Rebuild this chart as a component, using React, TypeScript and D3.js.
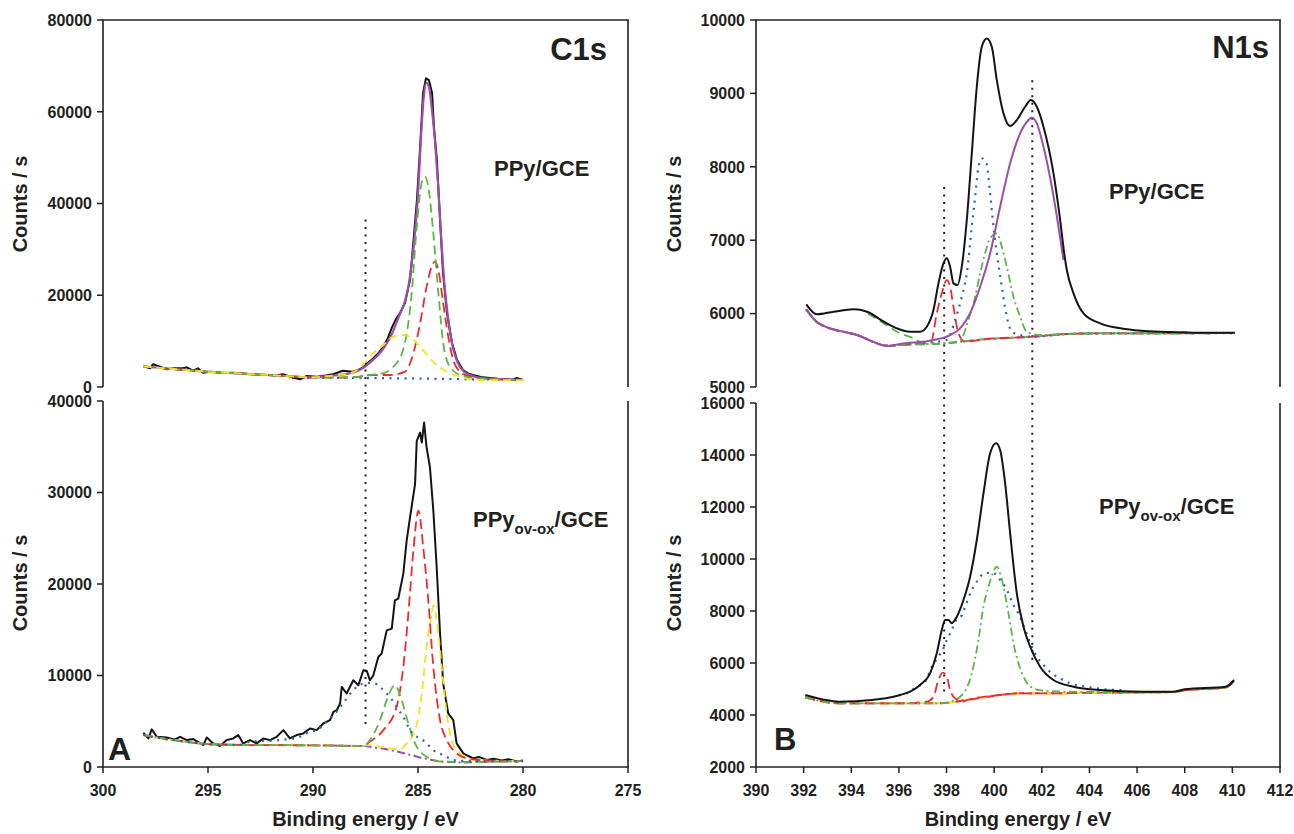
import React from 'react';
import * as d3 from 'd3';

type P = [number, number];

// ---------------- Panel A : C1s ----------------
const c1sXTicks = [300, 295, 290, 285, 280, 275];
const c1sTopYTicks = [0, 20000, 40000, 60000, 80000];
const c1sBotYTicks = [0, 10000, 20000, 30000, 40000];

// PPy/GCE experimental spectrum
const c1sTopExp: P[] = [
  [298.08, 4580], [297.76, 4070], [297.62, 4950], [297.29, 4430], [296.97, 3860], [296.6, 4100],
  [296.19, 4070], [296.01, 4290], [295.71, 3550], [295.48, 4070], [295.24, 3120], [294.9, 3300],
  [294.59, 3200], [294.2, 3050], [293.81, 3120], [293.48, 2990], [293.0, 2830], [292.6, 2700],
  [292.2, 2620], [291.8, 2500], [291.43, 2770], [291.1, 2250], [290.62, 1680], [290.3, 2400],
  [289.82, 2250], [289.4, 2500], [289.05, 2770], [288.57, 3550], [288.24, 3400], [288.1, 3340],
  [287.8, 3800], [287.62, 4290], [287.44, 5000], [287.14, 6200], [286.9, 7300], [286.65, 8800],
  [286.45, 10500], [286.24, 13000], [286.05, 14800], [285.86, 16100], [285.62, 18300], [285.38, 23300],
  [285.24, 30500], [285.05, 40800], [284.9, 52300], [284.76, 64100], [284.62, 67300], [284.48, 66900],
  [284.33, 64100], [284.24, 56700], [284.1, 49500], [283.95, 36400], [283.81, 24900], [283.62, 16100],
  [283.38, 9600], [283.14, 5900], [282.86, 3700], [282.6, 2900], [282.38, 2600], [282.0, 2200],
  [281.57, 1960], [281.2, 1800], [280.8, 1750], [280.5, 1600], [280.3, 1950], [280.0, 1550],
];
// shared background of the fitted components (left side)
const c1sTopBg: P[] = [
  [298.08, 4500], [297.5, 4250], [297, 4050], [296.5, 3850], [296, 3700], [295.5, 3500], [295, 3300],
  [294.5, 3150], [294, 3050], [293.5, 2950], [293, 2800], [292.5, 2700], [292, 2600], [291.5, 2450],
  [291, 2300], [290.5, 2150], [290, 2100],
];
const c1sTopFit: P[] = [
  [289.5, 2300], [289, 2500], [288.5, 2800], [288.0, 3300], [287.6, 4200], [287.2, 5700], [286.9, 7000],
  [286.6, 8700], [286.2, 12000], [285.9, 15500], [285.6, 19000], [285.4, 23500], [285.2, 31000],
  [285.0, 42000], [284.85, 55000], [284.72, 63500], [284.6, 66300], [284.48, 65500], [284.35, 61000],
  [284.2, 54000], [284.05, 44500], [283.9, 33000], [283.75, 23000], [283.55, 14500], [283.35, 8800],
  [283.1, 5200], [282.8, 3300], [282.4, 2400], [281.8, 1900], [281, 1700], [280, 1550],
];
const c1sTopYellow: P[] = [
  [289.5, 2300], [289, 2500], [288.5, 2800], [288.0, 3400], [287.56, 5200], [287.13, 7350], [286.65, 9160],
  [286.17, 10970], [285.7, 11340], [285.3, 10620], [284.9, 8790], [284.51, 6610], [284.11, 4800],
  [283.63, 3340], [283.0, 2250], [282.05, 1530], [281, 1500], [280, 1450],
];
const c1sTopGreen: P[] = [
  [289, 2050], [288, 2100], [287.29, 2620], [286.65, 3000], [286.19, 4360], [285.71, 8070], [285.3, 20490],
  [285.06, 34880], [284.83, 44470], [284.67, 45850], [284.51, 43670], [284.27, 33570], [284.03, 20490],
  [283.8, 9590], [283.48, 4360], [283.0, 2620], [282.38, 1960], [281, 1600], [280, 1500],
];
const c1sTopRed: P[] = [
  [289, 2050], [288, 2150], [287.3, 2600], [286.33, 2620], [285.62, 3340], [285.22, 7350], [284.9, 13890],
  [284.59, 21870], [284.35, 26230], [284.19, 27310], [284.03, 25500], [283.8, 18250], [283.56, 10970],
  [283.32, 5890], [283.0, 3340], [282.52, 2250], [281.5, 1700], [280, 1500],
];
const c1sTopBlue: P[] = [
  [291, 2000], [289, 1980], [287.5, 1950], [285, 1850], [283, 1700], [281, 1600], [280, 1550],
];

// PPy(ov-ox)/GCE
const c1sBotExp: P[] = [
  [298.08, 3740], [297.84, 3120], [297.68, 4110], [297.44, 3300], [296.97, 3230], [296.6, 3000],
  [296.33, 3300], [296.01, 2940], [295.7, 3050], [295.22, 2400], [295.06, 3230], [294.75, 2580],
  [294.43, 2290], [294.11, 2940], [293.8, 3120], [293.56, 3490], [293.32, 2580], [293.0, 2940],
  [292.68, 2580], [292.37, 3120], [292.05, 2940], [291.73, 3300], [291.41, 4030], [291.1, 3120],
  [290.78, 3490], [290.46, 3670], [290.14, 4210], [289.82, 4030], [289.51, 4760], [289.19, 5120],
  [289.03, 6030], [288.87, 6210], [288.71, 6940], [288.63, 8750], [288.4, 8030], [288.08, 9480],
  [287.84, 8940], [287.6, 10570], [287.44, 10500], [287.29, 9480], [287.13, 10000], [286.89, 12020],
  [286.73, 12390], [286.49, 14930], [286.25, 15120], [286.1, 18200], [285.94, 18390], [285.7, 21110],
  [285.54, 24740], [285.38, 27280], [285.14, 30920], [285.06, 35640], [284.9, 36550], [284.82, 35460],
  [284.71, 37640], [284.59, 34910], [284.43, 32730], [284.27, 28010], [284.11, 21830], [283.95, 14570],
  [283.8, 9120], [283.56, 5850], [283.32, 5120], [283.16, 2580], [282.84, 1490], [282.6, 1200],
  [282.37, 950], [282.1, 1100], [281.73, 760], [281.4, 900], [281.0, 700], [280.7, 850], [280.3, 600],
  [280.0, 700],
];
const c1sBotBase: P[] = [
  [298.08, 3500], [297.5, 3250], [297, 3050], [296.5, 2900], [296, 2750], [295.5, 2600], [295, 2500],
  [294.5, 2450], [294, 2430], [293.5, 2420], [293, 2400], [292, 2400], [291, 2380], [290, 2370],
  [289, 2340], [288, 2300], [287.6, 2300],
];
const c1sBotShirley: P[] = [
  [287, 2100], [286.5, 1950], [286, 1700], [285.5, 1400], [285, 1100], [284.5, 850], [284, 620],
  [283.5, 550], [283, 500], [282, 550], [281, 600], [280, 650],
];
const c1sBotYellow: P[] = [
  [287.44, 2400], [286.5, 2100], [285.86, 1900], [285.54, 2580], [285.14, 4030], [284.82, 8030],
  [284.59, 13110], [284.35, 16750], [284.27, 17660], [284.03, 14570], [283.87, 10930], [283.63, 5850],
  [283.4, 2940], [283.0, 1490], [282.37, 760], [281.5, 700], [280, 650],
];
const c1sBotRed: P[] = [
  [287.29, 2760], [286.65, 4030], [286.02, 6570], [285.7, 10930], [285.46, 16750], [285.22, 23650],
  [284.98, 28010], [284.75, 24010], [284.51, 18200], [284.27, 10930], [283.95, 5120], [283.63, 2940],
  [283.16, 1490], [282.68, 950], [281.5, 700], [280, 650],
];
const c1sBotGreen: P[] = [
  [287.29, 2940], [286.81, 5120], [286.49, 7300], [286.1, 8940], [285.78, 7300], [285.46, 4760],
  [285.14, 2580], [284.59, 1120], [283.8, 580], [282.5, 550], [281, 600], [280, 650],
];
const c1sBotBlue: P[] = [
  [293, 2760], [291.57, 2940], [290.62, 3300], [290.14, 3850], [289.82, 4030], [289.35, 4940],
  [288.95, 5850], [288.63, 6760], [287.92, 8750], [287.44, 9190], [287.05, 9120], [286.65, 8390],
  [286.25, 7380], [286.02, 6570], [285.7, 5480], [285.38, 4030], [284.67, 2760], [284.27, 1850],
  [283.8, 1310], [283.32, 760], [282.5, 650], [281, 650], [280, 650],
];
const c1sMarkerEv = 287.5;
const c1sMarkerSpan: P = [36500, 4100]; // counts at top (upper panel) / bottom (lower panel)

// ---------------- Panel B : N1s ----------------
const n1sXTicks = [390, 392, 394, 396, 398, 400, 402, 404, 406, 408, 410, 412];
const n1sTopYTicks = [5000, 6000, 7000, 8000, 9000, 10000];
const n1sBotYTicks = [2000, 4000, 6000, 8000, 10000, 12000, 14000, 16000];

const n1sTopExp: P[] = [
  [392.11, 6126], [392.56, 5990], [393.26, 6026], [394.1, 6058], [394.66, 6026], [395.37, 5889],
  [395.92, 5799], [396.47, 5753], [396.89, 5753], [397.17, 5821], [397.45, 6049], [397.66, 6412],
  [397.87, 6685], [398.01, 6753], [398.15, 6639], [398.29, 6412], [398.46, 6389], [398.64, 6639],
  [398.85, 7275], [399.06, 8183], [399.27, 9090], [399.48, 9635], [399.69, 9748], [399.9, 9635],
  [400.11, 9181], [400.39, 8728], [400.67, 8555], [400.95, 8637], [401.3, 8818], [401.54, 8909],
  [401.79, 8818], [402.07, 8545], [402.49, 7910], [402.77, 7275], [402.94, 6821], [403.05, 6594],
  [403.33, 6276], [403.75, 6004], [404.45, 5867], [405.5, 5790], [406.5, 5760], [408, 5745],
  [409, 5740], [410.1, 5740],
];
const n1sTopFit: P[] = [
  [392.11, 6058], [392.63, 5867], [394.24, 5708], [395.57, 5560], [396.05, 5586], [397.45, 5640],
  [398.15, 5708], [398.57, 5799], [398.99, 6004], [399.41, 6366], [399.83, 6821], [400.25, 7456],
  [400.67, 8047], [401.09, 8455], [401.44, 8637], [401.58, 8673], [401.79, 8591], [402.07, 8273],
  [402.42, 7728], [402.7, 7183], [402.91, 6730],
];
const n1sTopBase: P[] = [
  [392.11, 6058], [392.63, 5867], [394.24, 5708], [395.57, 5560], [396.05, 5572], [397.94, 5595],
  [399.55, 5649], [401.58, 5685], [403.05, 5722], [404.45, 5731], [407, 5732], [410.1, 5735],
];
const n1sTopRed: P[] = [
  [397.35, 5620], [397.59, 6004], [397.8, 6276], [398.01, 6457], [398.15, 6366], [398.29, 6094],
  [398.5, 5731], [398.78, 5617],
];
const n1sTopBlue: P[] = [
  [398.01, 5640], [398.36, 5913], [398.64, 6230], [398.85, 6549], [399.06, 7183], [399.2, 7592],
  [399.34, 8000], [399.48, 8114], [399.66, 8069], [399.83, 7637], [399.97, 7183], [400.11, 6821],
  [400.32, 6366], [400.5, 6004], [400.74, 5753], [401.2, 5700],
];
const n1sTopGreen: P[] = [
  [398.57, 5640], [398.92, 5913], [399.2, 6230], [399.41, 6549], [399.62, 6821], [399.83, 7026],
  [400.11, 7094], [400.32, 6910], [400.53, 6639], [400.81, 6230], [401.09, 5957], [401.37, 5753],
  [401.93, 5708],
];
const n1sTopShoulder: P[] = [
  [394.7, 6000], [395.37, 5867], [396.05, 5731], [396.63, 5663], [396.89, 5617], [397.5, 5600],
];

const n1sBotExp: P[] = [
  [392.07, 4769], [392.8, 4600], [393.49, 4511], [394.87, 4577], [395.5, 4650], [396.05, 4769],
  [396.47, 4896], [396.89, 5154], [397.31, 5604], [397.59, 6373], [397.8, 7269], [397.94, 7654],
  [398.08, 7654], [398.22, 7527], [398.43, 7780], [398.71, 8423], [398.99, 9319], [399.27, 10730],
  [399.55, 12526], [399.83, 14065], [400.08, 14450], [400.25, 14192], [400.46, 12911], [400.67, 10988],
  [400.95, 8680], [401.23, 7396], [401.51, 6627], [401.93, 5858], [402.49, 5346], [403.33, 5088],
  [404.45, 4961], [406.26, 4896], [407.48, 4896], [408.0, 4988], [409.72, 5088], [410.07, 5346],
];
const n1sBotBase: P[] = [
  [392.07, 4680], [393.49, 4450], [395, 4450], [396.05, 4450], [397.73, 4450], [398.85, 4577],
  [400.25, 4769], [400.95, 4834], [402.35, 4834], [404.45, 4860], [406, 4870], [407.48, 4880],
  [408, 4950], [409.72, 5060], [410.07, 5300],
];
const n1sBotRed: P[] = [
  [397.17, 4511], [397.45, 4704], [397.66, 5346], [397.84, 5627], [398.01, 5473], [398.15, 4961],
  [398.36, 4640], [398.71, 4511],
];
const n1sBotBlue: P[] = [
  [396.0, 4760], [396.33, 4834], [396.75, 5088], [397.1, 5281], [397.38, 5858], [397.66, 6242],
  [397.87, 6563], [398.01, 6884], [398.22, 7269], [398.36, 7588], [398.64, 7846], [398.78, 8165],
  [399.06, 8807], [399.27, 9127], [399.58, 9447], [399.94, 9473], [400.25, 9192], [400.5, 8872],
  [400.81, 8230], [401.02, 7911], [401.3, 7269], [401.44, 6948], [401.58, 6627], [401.79, 6242],
  [402.07, 5923], [402.42, 5604], [402.77, 5410], [403.19, 5219], [403.89, 5088], [404.5, 5000],
  [405.5, 4950],
];
const n1sBotGreen: P[] = [
  [398.15, 4511], [398.71, 4834], [399.06, 5604], [399.34, 6884], [399.55, 8165], [399.76, 8934],
  [399.94, 9447], [400.11, 9704], [400.25, 9447], [400.39, 8934], [400.6, 7911], [400.81, 6757],
  [401.02, 5988], [401.3, 5346], [401.65, 5024], [402.07, 4935], [403, 4900], [405, 4880],
];
const n1sMarkerEv = [397.9, 401.6];
const n1sMarkerTop = [7725, 9180];
const n1sMarkerBot = [4850, 6040];

// ---------------- styling ----------------
const FONT = '"Liberation Sans", Arial, Helvetica, sans-serif';
const INK = '#231f20';
const C = {
  black: '#141414',
  purple: '#9b4fa8',
  green: '#5bb646',
  red: '#ee2b2b',
  yellow: '#f3e21c',
  blue: '#2a62b2',
};

const seg = (a: P[], lo: number, hi: number) => a.filter((d) => d[0] >= lo && d[0] <= hi);

type Series = { data: P[]; color: string; dash?: string; width?: number; smooth?: boolean; cap?: string };

type PanelProps = {
  x: d3.ScaleLinear<number, number>;
  y: d3.ScaleLinear<number, number>;
  yTicks: number[];
  xTicks?: number[];
  top?: boolean;
  series: Series[];
};

function Panel({ x, y, yTicks, xTicks, top, series }: PanelProps) {
  const [x0, x1] = x.range();
  const [yb, yt] = y.range();
  return (
    <g>
      {series.map((s, i) => {
        const gen = d3
          .line<P>()
          .x((d) => x(d[0]))
          .y((d) => y(d[1]))
          .curve(s.smooth ? d3.curveMonotoneX : d3.curveLinear);
        const data = [...s.data].sort((a, b) => x(a[0]) - x(b[0]));
        return (
          <path
            key={i}
            d={gen(data) || ''}
            fill="none"
            stroke={s.color}
            strokeWidth={s.width ?? 1.8}
            strokeDasharray={s.dash}
            strokeLinecap={(s.cap as any) ?? 'butt'}
            strokeLinejoin="round"
          />
        );
      })}
      {/* frame */}
      <line x1={x0} x2={x0} y1={yt} y2={yb} stroke={INK} strokeWidth={1.6} />
      <line x1={x1} x2={x1} y1={yt} y2={yb} stroke={INK} strokeWidth={1.6} />
      {top && <line x1={x0 - 0.8} x2={x1 + 0.8} y1={yt} y2={yt} stroke={INK} strokeWidth={1.6} />}
      {yTicks.map((t) => (
        <g key={t}>
          <line x1={x0 - 6} x2={x0} y1={y(t)} y2={y(t)} stroke={INK} strokeWidth={1.5} />
          <text x={x0 - 11} y={y(t)} dy="0.36em" textAnchor="end" fontSize={16} fontWeight="bold" fill={INK}>
            {t}
          </text>
        </g>
      ))}
      {xTicks && (
        <g>
          <line x1={x0 - 0.8} x2={x1 + 0.8} y1={yb} y2={yb} stroke={INK} strokeWidth={1.6} />
          {xTicks.map((t) => (
            <g key={t}>
              <line x1={x(t)} x2={x(t)} y1={yb} y2={yb + 6} stroke={INK} strokeWidth={1.5} />
              <text x={x(t)} y={yb + 29} textAnchor="middle" fontSize={16} fontWeight="bold" fill={INK}>
                {t}
              </text>
            </g>
          ))}
        </g>
      )}
    </g>
  );
}

const DOT = '2,5.5';
const DASH_R = '10,5';
const DASH_G = '9,5';
const DASH_Y = '8,5';
const DASH_DOT = '8,3.5,2,3.5';

export default function App() {
  // scales
  const xA = d3.scaleLinear().domain([300, 275]).range([103, 628]);
  const yAt = d3.scaleLinear().domain([0, 80000]).range([387, 20]);
  const yAb = d3.scaleLinear().domain([0, 40000]).range([767, 401]);
  const xB = d3.scaleLinear().domain([390, 412]).range([756, 1280]);
  const yBt = d3.scaleLinear().domain([5000, 10000]).range([387, 20]);
  const yBb = d3.scaleLinear().domain([2000, 16000]).range([767, 403]);

  const aTopSeries: Series[] = [
    { data: c1sTopBlue, color: C.blue, dash: DOT, width: 2.2 },
    { data: c1sTopExp, color: C.black, width: 2 },
    { data: [...c1sTopBg, ...c1sTopFit], color: C.purple, width: 2.2, smooth: true },
    { data: [...c1sTopBg, ...c1sTopRed], color: C.red, dash: DASH_R, smooth: true },
    { data: [...c1sTopBg, ...c1sTopGreen], color: C.green, dash: DASH_G, smooth: true },
    { data: [...c1sTopBg, ...c1sTopYellow], color: C.yellow, dash: DASH_Y, smooth: true },
  ];
  const aBotSeries: Series[] = [
    { data: c1sBotExp, color: C.black, width: 2 },
    { data: [...c1sBotBase, ...c1sBotShirley], color: C.purple, dash: DASH_DOT, width: 2, smooth: true },
    { data: [...seg(c1sBotBase, 287.5, 299), ...c1sBotYellow], color: C.yellow, dash: DASH_Y, smooth: true },
    { data: [...seg(c1sBotBase, 287.5, 299), ...c1sBotRed], color: C.red, dash: DASH_R, smooth: true },
    { data: [...seg(c1sBotBase, 287.5, 299), ...c1sBotGreen], color: C.green, dash: DASH_G, smooth: true },
    { data: [...seg(c1sBotBase, 293.1, 299), ...c1sBotBlue], color: C.blue, dash: DOT, width: 2.2, smooth: true },
  ];
  const bTopSeries: Series[] = [
    { data: n1sTopBase, color: C.purple, dash: DASH_DOT, width: 2, smooth: true },
    { data: seg(n1sTopBase, 395, 411), color: C.green, dash: '6,9', width: 2, smooth: true },
    { data: [...seg(n1sTopBase, 392, 397.2), ...n1sTopRed, ...seg(n1sTopBase, 399, 411)], color: C.red, dash: DASH_R, smooth: true },
    { data: [...seg(n1sTopBase, 392, 397.9), ...n1sTopBlue, ...seg(n1sTopBase, 401.5, 411)], color: C.blue, dash: DOT, width: 2.2, smooth: true },
    { data: [...seg(n1sTopBase, 392, 398.4), ...n1sTopGreen, ...seg(n1sTopBase, 402.5, 411)], color: C.green, dash: DASH_DOT, smooth: true },
    { data: n1sTopShoulder, color: C.green, dash: DASH_G, smooth: true },
    { data: n1sTopFit, color: C.purple, width: 2, smooth: true },
    { data: n1sTopExp, color: C.black, width: 2, smooth: true },
  ];
  const bBotSeries: Series[] = [
    { data: n1sBotBase, color: C.red, dash: DASH_R, width: 2, smooth: true },
    { data: n1sBotBase, color: C.yellow, dash: '7,9', width: 2, smooth: true },
    { data: [...seg(n1sBotBase, 392, 397.0), ...n1sBotRed, ...seg(n1sBotBase, 398.8, 411)], color: C.red, dash: DASH_R, smooth: true },
    { data: [...seg(n1sBotBase, 392, 398.0), ...n1sBotGreen, ...seg(n1sBotBase, 406, 411)], color: C.green, dash: DASH_DOT, smooth: true },
    { data: n1sBotBlue, color: C.blue, dash: DOT, width: 2.2, smooth: true },
    { data: n1sBotExp, color: C.black, width: 2, smooth: true },
  ];

  const dotted = { stroke: INK, strokeWidth: 2, strokeDasharray: '2,5.5' };

  return (
    <svg
      width={1294}
      height={834}
      style={{ position: 'absolute', left: 0, top: 0, display: 'block', background: '#fff' }}
      fontFamily={FONT}
    >
      <rect width={1294} height={834} fill="#fff" />

      {/* vertical reference lines */}
      <line x1={xA(c1sMarkerEv)} x2={xA(c1sMarkerEv)} y1={yAt(c1sMarkerSpan[0])} y2={yAb(c1sMarkerSpan[1])} {...dotted} />
      {n1sMarkerEv.map((ev, i) => (
        <line key={ev} x1={xB(ev)} x2={xB(ev)} y1={yBt(n1sMarkerTop[i])} y2={yBb(n1sMarkerBot[i])} {...dotted} />
      ))}

      <Panel x={xA} y={yAt} yTicks={c1sTopYTicks} top series={aTopSeries} />
      <Panel x={xA} y={yAb} yTicks={c1sBotYTicks} xTicks={c1sXTicks} series={aBotSeries} />
      <Panel x={xB} y={yBt} yTicks={n1sTopYTicks} top series={bTopSeries} />
      <Panel x={xB} y={yBb} yTicks={n1sBotYTicks} xTicks={n1sXTicks} series={bBotSeries} />

      {/* annotations */}
      <g fontWeight="bold" fill={INK}>
        <text x={607} y={60} fontSize={31} textAnchor="end">C1s</text>
        <text x={1269} y={58} fontSize={31} textAnchor="end">N1s</text>
        <text x={494} y={176} fontSize={22}>PPy/GCE</text>
        <text x={1109} y={199} fontSize={22}>PPy/GCE</text>
        <text x={473} y={527} fontSize={22}>
          PPy<tspan fontSize={15} dy={7}>ov-ox</tspan>
          <tspan dy={-7}>/GCE</tspan>
        </text>
        <text x={1099} y={514} fontSize={22}>
          PPy<tspan fontSize={15} dy={7}>ov-ox</tspan>
          <tspan dy={-7}>/GCE</tspan>
        </text>
        <text x={108} y={760} fontSize={32}>A</text>
        <text x={774} y={750} fontSize={31}>B</text>

        <text transform="translate(27,204) rotate(-90)" fontSize={20} textAnchor="middle">Counts / s</text>
        <text transform="translate(27,583) rotate(-90)" fontSize={20} textAnchor="middle">Counts / s</text>
        <text transform="translate(681,204) rotate(-90)" fontSize={20} textAnchor="middle">Counts / s</text>
        <text transform="translate(681,583) rotate(-90)" fontSize={20} textAnchor="middle">Counts / s</text>

        <text x={365.5} y={826} fontSize={20} textAnchor="middle">Binding energy / eV</text>
        <text x={1018} y={826} fontSize={20} textAnchor="middle">Binding energy / eV</text>
      </g>
    </svg>
  );
}
